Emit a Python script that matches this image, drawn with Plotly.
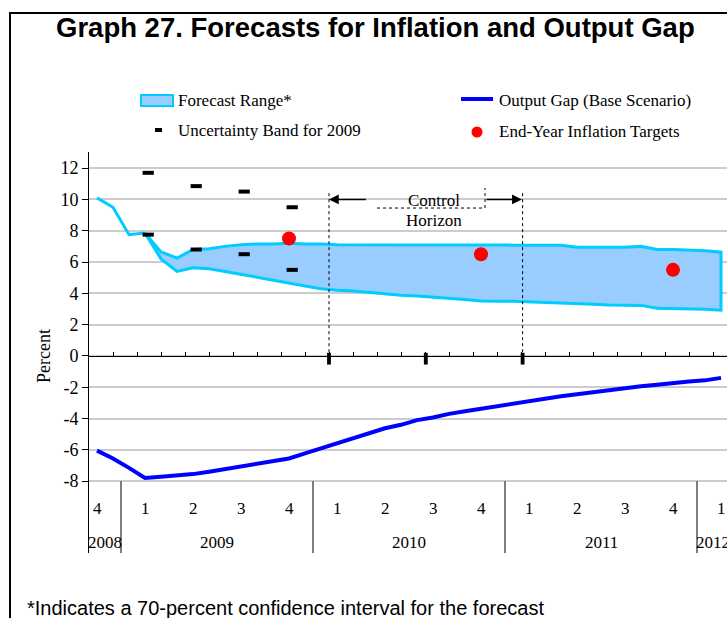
import plotly.graph_objects as go

# -------------------
# Dados (meses: 0 = nov/2008 ... 39 = fev/2012)
# -------------------
months = list(range(40))

inflation_head = [10.1, 9.5, 7.75, 7.85]          # meses 0..3
band_upper = [7.85, 6.65, 6.25, 6.8, 6.85, 7.0, 7.1, 7.15, 7.15, 7.2,
              7.15, 7.15, 7.1, 7.1, 7.1, 7.1, 7.12, 7.12, 7.12, 7.12,
              7.12, 7.08, 7.08, 7.08, 7.07, 7.07, 7.07, 6.95, 6.95, 6.95,
              6.95, 7.0, 6.8, 6.8, 6.78, 6.72, 6.63]   # meses 3..39
band_lower = [7.85, 6.2, 5.4, 5.63, 5.57, 5.4, 5.25, 5.04, 4.83, 4.66,
              4.47, 4.3, 4.19, 4.15, 4.08, 3.98, 3.88, 3.83, 3.77, 3.68,
              3.6, 3.51, 3.5, 3.5, 3.48, 3.42, 3.4, 3.34, 3.3, 3.25,
              3.23, 3.23, 3.05, 3.03, 3.01, 2.98, 2.92]

output_gap = [-6.05, -6.55, -7.15, -7.8, -7.72, -7.65, -7.55, -7.4, -7.23, -7.08,
              -6.92, -6.76, -6.55, -6.23, -5.92, -5.6, -5.3, -4.95, -4.62, -4.4,
              -4.1, -3.93, -3.7, -3.54, -3.37, -3.2, -3.05, -2.9, -2.73, -2.57,
              -2.45, -2.31, -2.2, -2.04, -1.94, -1.84, -1.71, -1.63, -1.56, -1.4]

band_2009_x = [3.2, 6.2, 9.2, 12.2]
band_2009_hi = [11.7, 10.85, 10.5, 9.5]
band_2009_lo = [7.75, 6.8, 6.5, 5.5]

target_x = [12, 24, 36]
target_y = [7.5, 6.5, 5.5]

quarter_x = [0, 3, 6, 9, 12, 15, 18, 21, 24, 27, 30, 33, 36, 39]
quarter_labels = ["4", "1", "2", "3", "4", "1", "2", "3", "4", "1", "2", "3", "4", "1"]
year_labels = ["2008", "2009", "2010", "2011", "2012"]
year_x = [0.5, 7.5, 19.5, 31.5, 38.5]
year_edges = [1.5, 13.5, 25.5, 37.5]

horizon = [14.5, 26.6]
bold_ticks = [14.5, 20.55, 26.6]

y_ticks = [-8, -6, -4, -2, 0, 2, 4, 6, 8, 10, 12]

# -------------------
# Geometria (pixels)
# -------------------
WIDTH, HEIGHT = 727, 618
L, R, T, B = 89, 727, 152, 553
PW, PH = R - L, B - T
YMIN, YMAX = -12.59, 13.03
XMIN, XMAX = -0.5, 39.375


def px(x):
    return (x - L) / PW


def py(y):
    return (B - y) / PH


SERIF = "Liberation Serif, Times New Roman, serif"
SANS = "Liberation Sans, Arial, sans-serif"
CYAN = "#00CCFF"
FILL = "#99CCFF"

fig = go.Figure()

# faixa de previsão
fig.add_trace(go.Scatter(
    x=months[3:] + months[3:][::-1],
    y=band_upper + band_lower[::-1],
    fill="toself", fillcolor=FILL,
    mode="lines", line=dict(color=CYAN, width=3),
    hoverinfo="skip", showlegend=False
))
fig.add_trace(go.Scatter(
    x=months[:4], y=inflation_head,
    mode="lines", line=dict(color=CYAN, width=3),
    hoverinfo="skip", showlegend=False
))

# hiato do produto
fig.add_trace(go.Scatter(
    x=months, y=output_gap,
    mode="lines", line=dict(color="#0000FF", width=4),
    showlegend=False
))

# banda de incerteza 2009
fig.add_trace(go.Scatter(
    x=band_2009_x + band_2009_x, y=band_2009_hi + band_2009_lo,
    mode="markers",
    marker=dict(symbol="line-ew", size=8, line=dict(color="black", width=4)),
    showlegend=False
))

# metas
fig.add_trace(go.Scatter(
    x=target_x, y=target_y, mode="markers",
    marker=dict(color="#FF0000", size=14),
    showlegend=False
))

shapes = []
# horizonte de controle
for hx in horizon:
    shapes.append(dict(type="line", xref="x", yref="y", x0=hx, x1=hx, y0=10.4, y1=-0.5,
                       line=dict(color="black", width=1, dash="dot")))
for bx in bold_ticks:
    shapes.append(dict(type="rect", xref="x", yref="y", x0=bx - 0.12, x1=bx + 0.12, y0=0.2, y1=-0.55,
                       fillcolor="black", line=dict(width=0)))
shapes.append(dict(type="line", xref="x", yref="y", x0=17.5, x1=24.25, y0=9.45, y1=9.45,
                   line=dict(color="black", width=1, dash="dot")))
shapes.append(dict(type="line", xref="x", yref="y", x0=24.25, x1=24.25, y0=9.45, y1=10.73,
                   line=dict(color="black", width=1, dash="dot")))

# separadores de ano
for ex in year_edges:
    shapes.append(dict(type="line", xref="x", yref="y", x0=ex, x1=ex, y0=-8, y1=YMIN,
                       line=dict(color="black", width=1)))

# moldura
shapes.append(dict(type="line", xref="paper", yref="paper", x0=px(10), x1=px(10), y0=py(13), y1=py(640),
                   line=dict(color="black", width=2)))
shapes.append(dict(type="line", xref="paper", yref="paper", x0=px(9), x1=px(760), y0=py(13), y1=py(13),
                   line=dict(color="black", width=2)))

# legenda
shapes.append(dict(type="rect", xref="paper", yref="paper", x0=px(141), x1=px(173), y0=py(106), y1=py(95),
                   fillcolor=FILL, line=dict(color=CYAN, width=2)))
shapes.append(dict(type="line", xref="paper", yref="paper", x0=px(461), x1=px(493), y0=py(99), y1=py(99),
                   line=dict(color="#0000FF", width=4)))
shapes.append(dict(type="rect", xref="paper", yref="paper", x0=px(155), x1=px(162), y0=py(132), y1=py(128),
                   fillcolor="black", line=dict(width=0)))
shapes.append(dict(type="circle", xref="paper", yref="paper", x0=px(471.5), x1=px(482.5), y0=py(137.5), y1=py(126.5),
                   fillcolor="#FF0000", line=dict(width=0)))

annotations = []
legend_items = [("Forecast Range*", 176, 100), ("Uncertainty Band for 2009", 176, 130),
                ("Output Gap (Base Scenario)", 497, 100), ("End-Year Inflation Targets", 497, 131)]
for text, lx, ly in legend_items:
    annotations.append(dict(text=text, xref="paper", yref="paper", x=px(lx), y=py(ly),
                            xanchor="left", yanchor="middle", showarrow=False,
                            font=dict(family=SERIF, size=17, color="black")))

# setas do horizonte
annotations.append(dict(x=14.5, y=10, ax=16.9, ay=10, xref="x", yref="y", axref="x", ayref="y",
                        text="", showarrow=True, arrowhead=2, arrowsize=1.3, arrowwidth=1.5,
                        arrowcolor="black", standoff=0))
annotations.append(dict(x=26.55, y=10, ax=24.25, ay=10, xref="x", yref="y", axref="x", ayref="y",
                        text="", showarrow=True, arrowhead=2, arrowsize=1.3, arrowwidth=1.5,
                        arrowcolor="black", standoff=0))
annotations.append(dict(text="Control", x=21.05, y=9.95, xref="x", yref="y", showarrow=False,
                        font=dict(family=SERIF, size=17, color="black")))
annotations.append(dict(text="Horizon", x=21.05, y=8.68, xref="x", yref="y", showarrow=False,
                        font=dict(family=SERIF, size=17, color="black")))

# rótulos trimestrais / anuais
for qx, ql in zip(quarter_x, quarter_labels):
    annotations.append(dict(text=ql, x=qx, y=-9.72, xref="x", yref="y", showarrow=False,
                            font=dict(family=SERIF, size=17, color="black")))
for yx, yl in zip(year_x, year_labels):
    annotations.append(dict(text=yl, x=yx, y=-11.95, xref="x", yref="y", showarrow=False,
                            font=dict(family=SERIF, size=17, color="black")))

# título, eixo, nota
annotations.append(dict(text="<b>Graph 27. Forecasts for Inflation and Output Gap</b>",
                        xref="paper", yref="paper", x=px(375), y=py(28), showarrow=False,
                        xanchor="center", yanchor="middle",
                        font=dict(family=SANS, size=27.5, color="black")))
annotations.append(dict(text="Percent", xref="paper", yref="paper", x=px(44), y=py(356),
                        textangle=-90, showarrow=False, xanchor="center", yanchor="middle",
                        font=dict(family=SERIF, size=18, color="black")))
annotations.append(dict(text="*Indicates a 70-percent confidence interval for the forecast",
                        xref="paper", yref="paper", x=px(25), y=py(608), showarrow=False,
                        xanchor="left", yanchor="middle",
                        font=dict(family=SANS, size=20, color="black")))

zero_pos = (0 - YMIN) / (YMAX - YMIN)

fig.update_layout(
    width=WIDTH, height=HEIGHT,
    margin=dict(l=L, r=WIDTH - R, t=T, b=HEIGHT - B, pad=0),
    paper_bgcolor="white", plot_bgcolor="white",
    showlegend=False,
    shapes=shapes, annotations=annotations,
    xaxis=dict(range=[XMIN, XMAX], anchor="free", position=zero_pos,
               showline=True, linecolor="black", linewidth=1,
               ticks="inside", ticklen=4, tickcolor="black", tick0=-0.5, dtick=1.5,
               showticklabels=False, showgrid=False, zeroline=False),
    yaxis=dict(range=[YMIN, YMAX], tickvals=y_ticks, ticktext=[str(v) for v in y_ticks],
               showline=True, linecolor="black", linewidth=1,
               ticks="outside", ticklen=6, tickcolor="black",
               showgrid=True, gridcolor="#CCCCCC", gridwidth=1.5, zeroline=False,
               tickfont=dict(family=SERIF, size=18, color="black")),
)

# a página padrão tem margem de 8px no body; zera para o gráfico ocupar a janela toda
fig.write_html("out.html", config={"displayModeBar": False},
               post_script="document.body.style.margin='0';document.body.style.overflow='hidden';")
